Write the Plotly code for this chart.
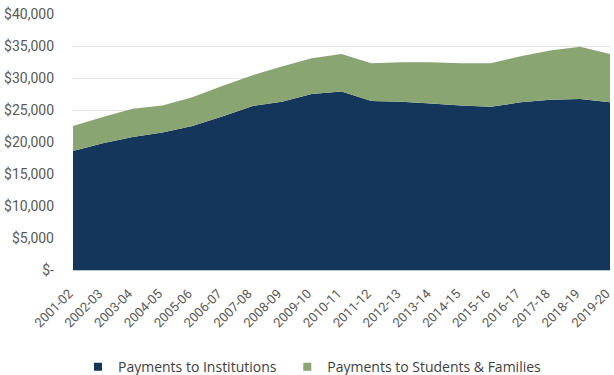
import plotly.graph_objects as go

years = ["2001-02", "2002-03", "2003-04", "2004-05", "2005-06", "2006-07", "2007-08",
         "2008-09", "2009-10", "2010-11", "2011-12", "2012-13", "2013-14", "2014-15",
         "2015-16", "2016-17", "2017-18", "2018-19", "2019-20"]

# Annual payments (dollars)
institutions = [18600, 19800, 20800, 21500, 22500, 24000, 25600, 26300, 27500, 27900,
                26400, 26300, 26000, 25700, 25500, 26200, 26600, 26700, 26200]
totals = [22500, 23900, 25200, 25700, 27000, 28750, 30400, 31800, 33100, 33750,
          32300, 32450, 32450, 32300, 32300, 33400, 34300, 34900, 33750]
students = [t - i for t, i in zip(totals, institutions)]

y_ticks = [0, 5000, 10000, 15000, 20000, 25000, 30000, 35000, 40000]
y_labels = ["$-"] + [f"${v:,}" for v in y_ticks[1:]]

NAVY = "#14365a"
GREEN = "#89a572"
GRAY = "#595959"

series = [("Payments to Institutions", institutions, NAVY, "legend"),
          ("Payments to Students & Families", students, GREEN, "legend2")]

fig = go.Figure()
for name, vals, color, leg in series:
    # stacked area
    fig.add_trace(go.Scatter(
        x=years, y=vals, name=name, legendgroup=name, showlegend=False,
        stackgroup="one", mode="none", fillcolor=color,
    ))
    # square legend key
    fig.add_trace(go.Scatter(
        x=[None], y=[None], name=name, legendgroup=name, mode="markers",
        marker=dict(symbol="square", size=8, color=color), legend=leg,
    ))

legend_font = dict(family="Open Sans, sans-serif", size=14, color="#404040")
legend_common = dict(orientation="h", xref="paper", xanchor="left",
                     yref="container", y=0.021, yanchor="middle", font=legend_font)

fig.update_layout(
    width=614, height=375,
    margin=dict(l=73, r=4, t=14, b=105),
    paper_bgcolor="white", plot_bgcolor="white",
    font=dict(family="Roboto, Arial, sans-serif", color=GRAY, size=12),
    showlegend=True,
    legend=dict(x=0.0093, **legend_common),
    legend2=dict(x=0.399, **legend_common),
    xaxis=dict(
        type="category", range=[0, len(years) - 1], tickangle=-45, automargin=False,
        showgrid=False, showline=True, linecolor="#b8c2cc", linewidth=1,
        tickfont=dict(size=13, color=GRAY), ticks="", ticklabelstandoff=10,
        ticklabelshift=-4,
    ),
    yaxis=dict(
        range=[0, 40000], tickvals=y_ticks, ticktext=y_labels, automargin=False,
        showgrid=True, gridcolor="#e3e3e3", gridwidth=1,
        zeroline=False, showline=False,
        tickfont=dict(size=14, color=GRAY), ticklabelstandoff=18,
    ),
)

fig.write_html("out.html")
